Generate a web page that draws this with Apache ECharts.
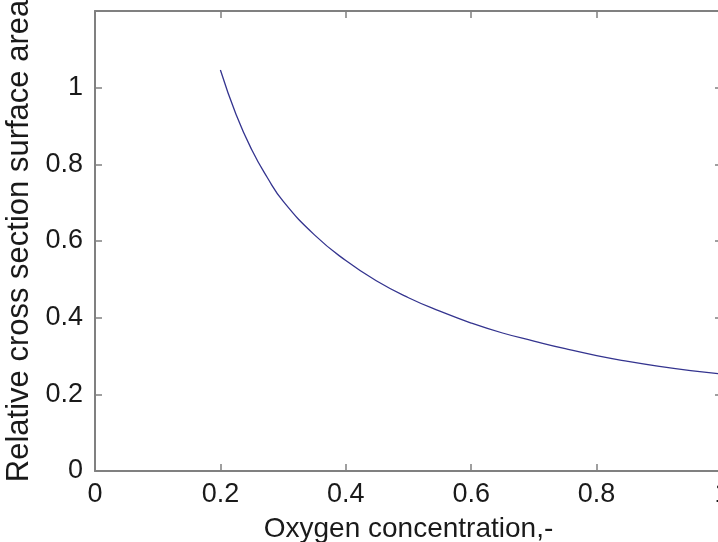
<!DOCTYPE html>
<html>
<head>
<meta charset="utf-8">
<script src="https://cdn.jsdelivr.net/npm/echarts@6/dist/echarts.min.js"></script>
<style>
html,body{margin:0;padding:0;background:#fff;}
#c{width:718px;height:542px;}
</style>
</head>
<body>
<div id="c"></div>
<script>
var xValues = [0.20, 0.225, 0.25, 0.275, 0.30, 0.35, 0.40, 0.45, 0.50, 0.55, 0.60, 0.65, 0.70, 0.75, 0.80, 0.85, 0.90, 0.95, 1.00];
var yValues = [1.046, 0.930, 0.838, 0.765, 0.704, 0.616, 0.549, 0.495, 0.452, 0.417, 0.386, 0.360, 0.339, 0.319, 0.301, 0.286, 0.273, 0.262, 0.253];
var xTitle = 'Oxygen concentration,-';
var yTitle = 'Relative cross section surface area';

var pts = xValues.map(function (x, i) { return [x, yValues[i]]; });
var font = 'Liberation Sans, Arial, sans-serif';
var axisCol = '#808080';
var txt = '#1a1a1a';

var chart = echarts.init(document.getElementById('c'), null, {renderer: 'canvas'});
chart.setOption({
  animation: false,
  backgroundColor: '#ffffff',
  grid: {left: 95, top: 11, width: 627, height: 460, containLabel: false, outerBoundsMode: 'none'},
  xAxis: [{
    type: 'value', min: 0, max: 1, interval: 0.2, position: 'bottom',
    name: xTitle, nameLocation: 'middle', nameGap: 44,
    nameTextStyle: {fontFamily: font, fontSize: 28, color: txt},
    axisLine: {show: true, onZero: false, lineStyle: {color: axisCol, width: 2}},
    axisTick: {show: true, inside: true, length: 7, lineStyle: {color: axisCol, width: 1.5}},
    axisLabel: {fontFamily: font, fontSize: 27, color: txt, margin: 10,
      formatter: function (v) { return String(+v.toFixed(1)); }},
    splitLine: {show: false}
  }, {
    type: 'value', min: 0, max: 1, interval: 0.2, position: 'top',
    axisLine: {show: true, onZero: false, lineStyle: {color: axisCol, width: 2}},
    axisTick: {show: true, inside: true, length: 7, lineStyle: {color: axisCol, width: 1.5}},
    axisLabel: {show: false}, splitLine: {show: false}
  }],
  yAxis: [{
    type: 'value', min: 0, max: 1.2, interval: 0.2, position: 'left',
    name: yTitle, nameLocation: 'middle', nameGap: 58,
    nameTextStyle: {fontFamily: font, fontSize: 31, color: txt},
    axisLine: {show: true, onZero: false, lineStyle: {color: axisCol, width: 2}},
    axisTick: {show: true, inside: true, length: 7, lineStyle: {color: axisCol, width: 1.5}},
    axisLabel: {fontFamily: font, fontSize: 27, color: txt, margin: 12, showMaxLabel: false,
      formatter: function (v) { return String(+v.toFixed(1)); }},
    splitLine: {show: false}
  }, {
    type: 'value', min: 0, max: 1.2, interval: 0.2, position: 'right',
    axisLine: {show: true, onZero: false, lineStyle: {color: axisCol, width: 2}},
    axisTick: {show: true, inside: true, length: 7, lineStyle: {color: axisCol, width: 1.5}},
    axisLabel: {show: false}, splitLine: {show: false}
  }],
  series: [{
    type: 'line', xAxisIndex: 0, yAxisIndex: 0,
    data: pts, smooth: true, showSymbol: false,
    lineStyle: {color: '#34348f', width: 1.3}
  }]
});
</script>
</body>
</html>
